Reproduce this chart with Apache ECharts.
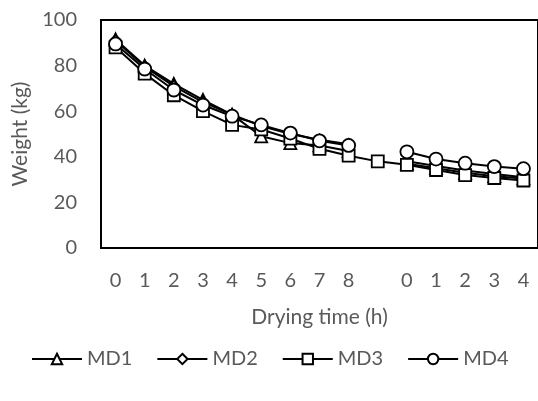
<!DOCTYPE html>
<html><head><meta charset="utf-8">
<script src="https://cdn.jsdelivr.net/npm/echarts@6/dist/echarts.min.js"></script>
<style>html,body{margin:0;padding:0;background:#fff}#c{width:538px;height:401px}</style>
</head><body><div id="c"></div>
<script>
var categories = ['0','1','2','3','4','5','6','7','8','','0','1','2','3','4'];
var md1 = [91.5, 80, 72, 65, 58.5, 49, 46, 45, 42.5, null, 37, 35, 33, 31.5, 30.5];
var md2 = [91, 79.5, 71, 64, 58.5, 53.5, 50, 47.5, 45.5, null, 38, 36, 34, 32.5, 31];
var md3 = [88, 76.5, 67, 60, 54, 52, 48, 43.5, 40.5, 38, 36.5, 34.2, 32, 30.7, 29.6];
var md4 = [89.5, 78.5, 69.3, 62.7, 57.8, 54, 50.4, 47, 45, null, 42.2, 39, 37.2, 35.7, 34.8];
var seriesNames = ['MD1','MD2','MD3','MD4'];
var yTicks = {min: 0, max: 100, interval: 20};

var FONT = 'Lato';
var GREY = '#595959';
var symbols = ['triangle','diamond','rect','circle'];
var sizes = [12, 11, 12, 13];
var datas = [md1, md2, md3, md4];
var chart = echarts.init(document.getElementById('c'), null, {renderer:'canvas'});
chart.setOption({
  animation: false,
  backgroundColor: '#fff',
  textStyle: {fontFamily: FONT},
  grid: {left: 101, right: -5, top: 20, bottom: 153, show: true, borderColor: '#000', borderWidth: 2, backgroundColor: 'transparent'},
  legend: {
    left: 26, top: 344, itemWidth: 50, itemHeight: 13, itemGap: 24,
    textStyle: {fontFamily: FONT, fontSize: 20, color: GREY},
    data: seriesNames
  },
  xAxis: {
    type: 'category', data: categories, boundaryGap: true,
    axisLine: {show: true, lineStyle: {color: '#000', width: 2}},
    axisTick: {show: false},
    axisLabel: {fontFamily: FONT, fontSize: 20, color: GREY, margin: 23, interval: 0},
    name: 'Drying time (h)', nameLocation: 'middle', nameGap: 59,
    nameTextStyle: {fontFamily: FONT, fontSize: 21, color: GREY},
    splitLine: {show: false}
  },
  yAxis: {
    type: 'value', min: yTicks.min, max: yTicks.max, interval: yTicks.interval,
    axisLine: {show: true, lineStyle: {color: '#000', width: 2}},
    axisTick: {show: false},
    axisLabel: {fontFamily: FONT, fontSize: 20, color: GREY, margin: 24},
    splitLine: {show: false},
    name: 'Weight (kg)', nameLocation: 'middle', nameGap: 70,
    nameTextStyle: {fontFamily: FONT, fontSize: 21, color: GREY}
  },
  series: seriesNames.map(function(n, i){
    return {
      name: n, type: 'line', data: datas[i],
      symbol: symbols[i], symbolSize: sizes[i], showAllSymbol: true,
      connectNulls: false,
      lineStyle: {color: '#000', width: 2},
      itemStyle: {color: '#fff', borderColor: '#000', borderWidth: 1.8},
      z: 2 + i
    };
  })
});
</script></body></html>
